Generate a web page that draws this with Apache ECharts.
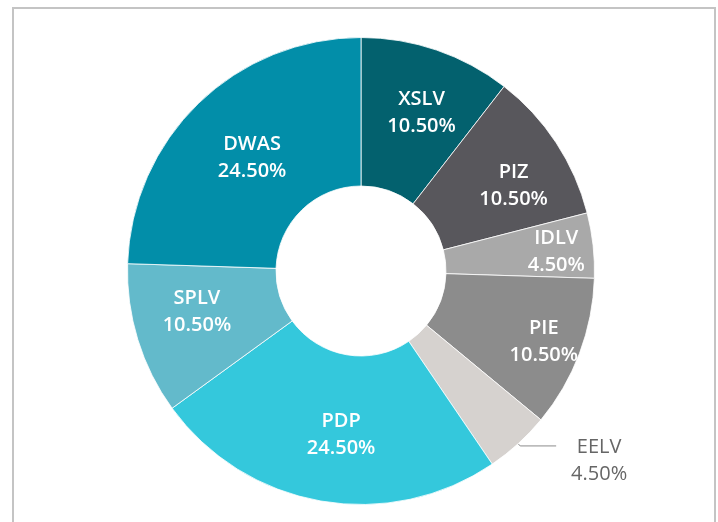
<!DOCTYPE html>
<html>
<head>
<meta charset="utf-8">
<script src="https://cdn.jsdelivr.net/npm/echarts@6/dist/echarts.min.js"></script>
<style>
  html, body { margin: 0; padding: 0; background: #fff; }
  #chart { width: 718px; height: 522px; }
</style>
</head>
<body>
<div id="chart"></div>
<script>
// slices, clockwise from 12 o'clock
const categories = ['XSLV', 'PIZ', 'IDLV', 'PIE', 'EELV', 'PDP', 'SPLV', 'DWAS'];
const shares = [10.5, 10.5, 4.5, 10.5, 4.5, 24.5, 10.5, 24.5];
const sliceColors = ['#03616e', '#58575c', '#a9a9a9', '#8c8c8c', '#d6d2cf', '#34c8dc', '#63bacb', '#028ea9'];

// nudges for the inside labels (px, relative to the default spot)
const labelShift = [[8, -5], [17, 4], [34, -1], [31, 13], null, [8, 4], [-9, -7], [4, 3]];

const chart = echarts.init(document.getElementById('chart'));

const pieData = categories.map((name, i) => {
  const item = {
    name: name,
    value: shares[i],
    itemStyle: { color: sliceColors[i] }
  };
  // the small EELV slice gets its label outside with a leader line
  if (name === 'EELV') {
    item.label = {
      position: 'outside',
      color: '#666666',
      fontWeight: 'normal',
      padding: [30, 0, 0, 0],
      distanceToLabelLine: 12,
      formatter: p => '{t|' + p.name + '}\n{t|' + p.value.toFixed(2) + '%}',
      rich: {
        t: { width: 62, align: 'center', fontSize: 20, lineHeight: 27, color: '#666666', fontFamily: 'Open Sans' }
      }
    };
    item.labelLine = {
      show: true,
      length: 3,
      length2: 36,
      lineStyle: { color: '#8c8c8c', width: 1 }
    };
  }
  return item;
});

chart.setOption({
  animation: false,
  graphic: [{
    type: 'rect',
    shape: { x: 13, y: 8, width: 702, height: 540 },
    style: { fill: 'none', stroke: '#c4c4c4', lineWidth: 2 },
    z: -1
  }],
  series: [{
    type: 'pie',
    center: [361, 271],
    radius: [85, 233.5],
    startAngle: 90,
    clockwise: true,
    avoidLabelOverlap: false,
    itemStyle: { borderColor: '#ffffff', borderWidth: 0.8 },
    label: {
      show: true,
      position: 'inside',
      color: '#ffffff',
      fontFamily: 'Open Sans',
      fontWeight: 600,
      fontSize: 20,
      lineHeight: 27,
      formatter: p => p.name + '\n' + p.value.toFixed(2) + '%'
    },
    labelLine: { show: false },
    labelLayout: function (params) {
      const s = labelShift[params.dataIndex];
      return s ? { dx: s[0], dy: s[1] } : {};
    },
    emphasis: { disabled: true },
    data: pieData
  }]
});
</script>
</body>
</html>
